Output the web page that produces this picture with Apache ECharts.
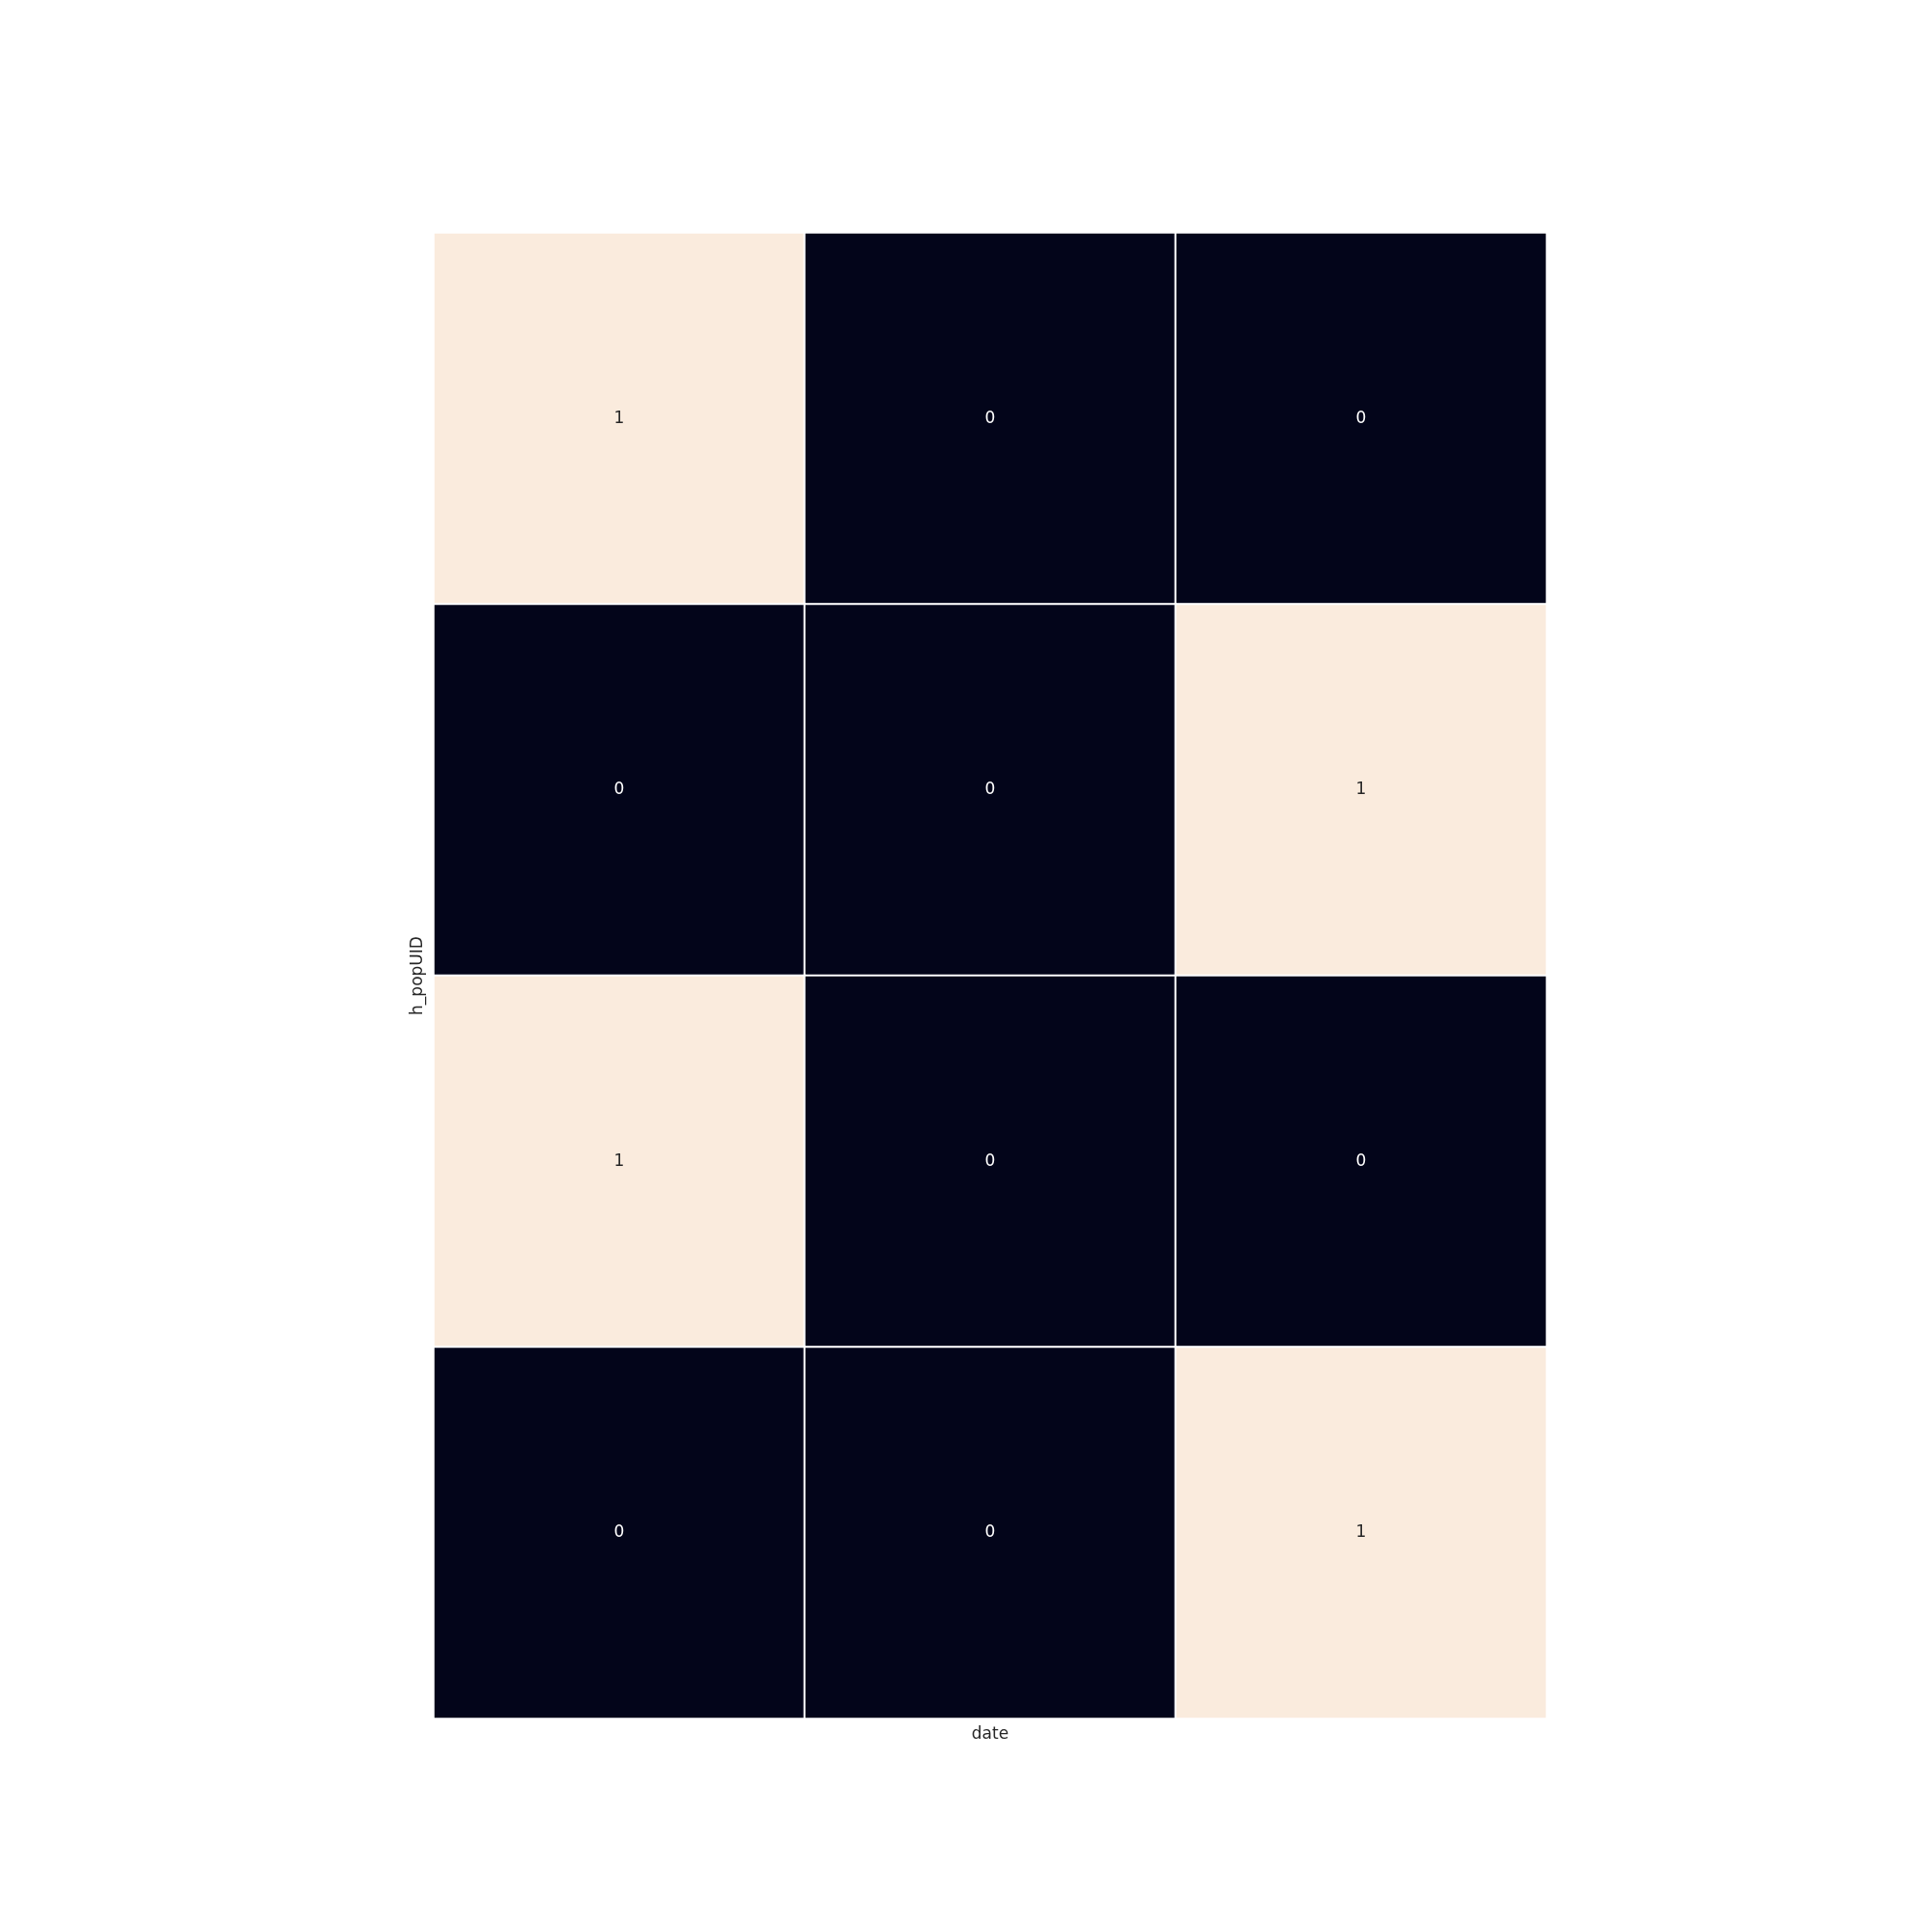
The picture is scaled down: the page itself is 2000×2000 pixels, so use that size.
<!DOCTYPE html>
<html>
<head>
<meta charset="utf-8">
<script src="https://cdn.jsdelivr.net/npm/echarts@6/dist/echarts.min.js"></script>
<style>html,body{margin:0;padding:0;background:#fff;}#c{width:2000px;height:2000px;}</style>
</head>
<body>
<div id="c"></div>
<script>
const xCategories = ['0', '1', '2'];
const yCategories = ['0', '1', '2', '3'];
const row0 = [1, 0, 0];
const row1 = [0, 0, 1];
const row2 = [1, 0, 0];
const row3 = [0, 0, 1];
const rows = [row0, row1, row2, row3];

const data = [];
rows.forEach((r, yi) => r.forEach((v, xi) => {
  data.push({
    value: [xi, yi, v],
    label: { color: v > 0.5 ? '#262626' : '#ffffff' }
  });
}));

const chart = echarts.init(document.getElementById('c'), null, { renderer: 'canvas' });
chart.setOption({
  backgroundColor: '#ffffff',
  animation: false,
  grid: { left: 449, right: 399, top: 241, bottom: 221, containLabel: false },
  xAxis: {
    type: 'category', data: xCategories,
    name: 'date', nameLocation: 'middle', nameGap: 8,
    nameTextStyle: { fontFamily: 'DejaVu Sans', fontSize: 17, color: '#262626', verticalAlign: 'top' },
    axisLine: { show: false }, axisTick: { show: false }, axisLabel: { show: false },
    splitLine: { show: false }, splitArea: { show: false }
  },
  yAxis: {
    type: 'category', data: yCategories, inverse: true,
    name: 'h_popUID', nameLocation: 'middle', nameGap: 16, nameRotate: 90,
    nameTextStyle: { fontFamily: 'DejaVu Sans', fontSize: 17, color: '#262626', verticalAlign: 'middle' },
    axisLine: { show: false }, axisTick: { show: false }, axisLabel: { show: false },
    splitLine: { show: false }, splitArea: { show: false }
  },
  visualMap: {
    show: false, type: 'continuous', min: 0, max: 1, dimension: 2,
    inRange: { color: ['#03051a', '#faebdd'] }
  },
  series: [{
    type: 'heatmap',
    data: data,
    itemStyle: { borderColor: '#ffffff', borderWidth: 2 },
    label: { show: true, fontFamily: 'DejaVu Sans', fontSize: 17, formatter: p => String(p.value[2]) },
    emphasis: { disabled: true }
  }]
});
</script>
</body>
</html>
